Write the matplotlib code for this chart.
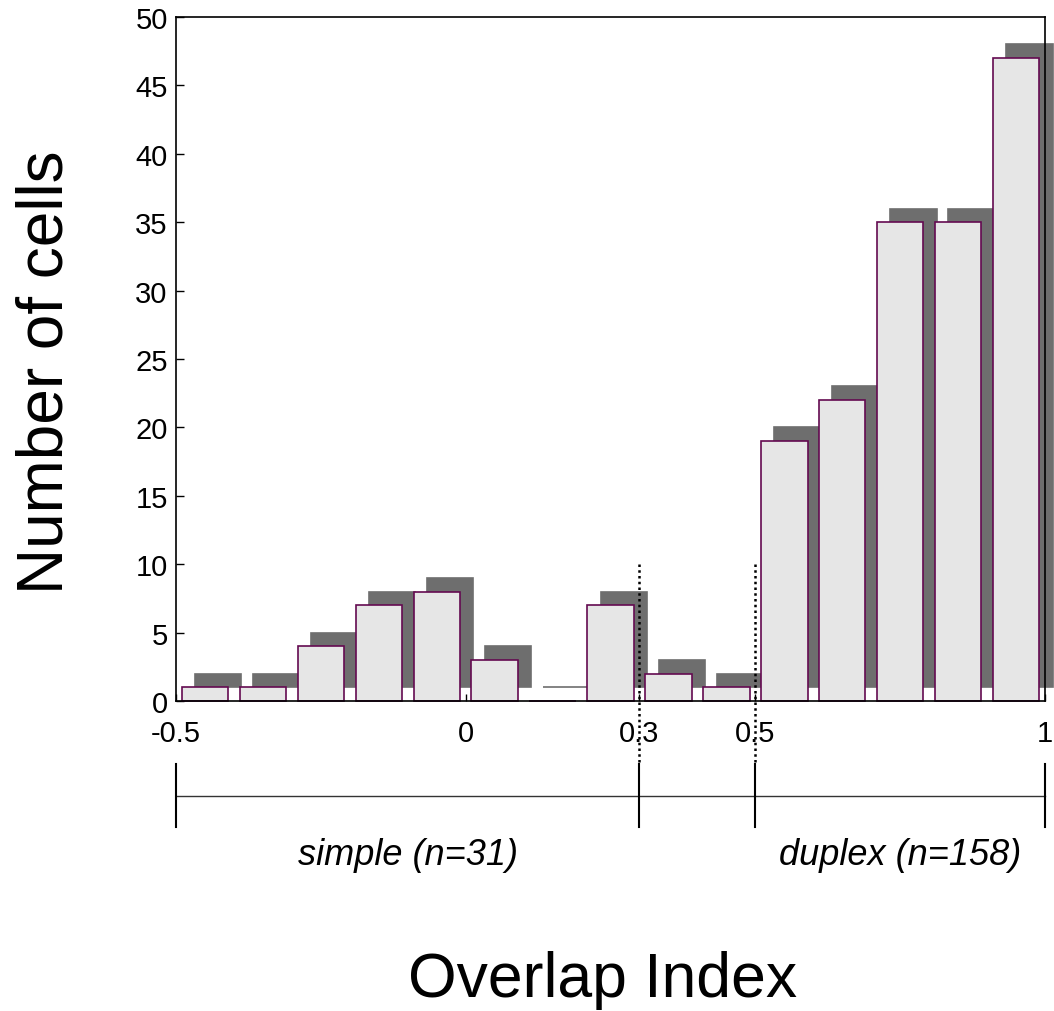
import matplotlib.pyplot as plt
import matplotlib.transforms as transforms


# bins of 0.1 from -0.5 to 1.0, bin centres
bin_centers = [-0.45, -0.35, -0.25, -0.15, -0.05, 0.05, 0.15, 0.25,
               0.35, 0.45, 0.55, 0.65, 0.75, 0.85, 0.95]
cell_counts = [1, 1, 4, 7, 8, 3, 0, 7, 2, 1, 19, 22, 35, 35, 47]

x_tick_values = [-0.5, 0, 0.3, 0.5, 1]
x_tick_labels = ["-0.5", "0", "0.3", "0.5", "1"]
y_tick_values = [0, 5, 10, 15, 20, 25, 30, 35, 40, 45, 50]

thresholds = [0.3, 0.5]
bracket_edges = [-0.5, 0.3, 0.5, 1.0]
group_labels = ["simple (n=31)", "duplex (n=158)"]
group_centers = [-0.1, 0.75]


def plot_overlap_histogram():
    plt.rcParams["font.family"] = ["Liberation Sans", "DejaVu Sans"]

    fig = plt.figure(figsize=(10.54, 10.12), dpi=100)
    ax = fig.add_axes([0.167, 0.3063, 0.8245, 0.6759])

    bar_width = 0.08
    shadow_dx = 0.023

    # drop shadow: shifted right and up by one cell
    ax.bar(
        [c + shadow_dx for c in bin_centers],
        cell_counts,
        width=bar_width,
        bottom=1,
        color="#6e6e6e",
        edgecolor="#6e6e6e",
        linewidth=1.2,
        zorder=1,
        clip_on=False
    )

    ax.bar(
        bin_centers,
        cell_counts,
        width=bar_width,
        color="#e6e6e6",
        edgecolor="#640a50",
        linewidth=1.2,
        zorder=2,
        clip_on=False
    )

    ax.set_xlim(-0.5, 1.0)
    ax.set_ylim(0, 50)

    ax.set_xticks(x_tick_values)
    ax.set_xticklabels(x_tick_labels)
    ax.set_yticks(y_tick_values)

    ax.tick_params(axis="both", direction="in", labelsize=21, width=1)
    ax.tick_params(axis="x", length=5, pad=13)
    ax.tick_params(axis="y", length=6, pad=6)

    for side in ["left", "bottom", "top", "right"]:
        ax.spines[side].set_linewidth(1.2)
        ax.spines[side].set_zorder(3)

    trans = transforms.blended_transform_factory(ax.transData, ax.transAxes)

    # dotted threshold lines
    for t in thresholds:
        ax.plot(
            [t, t],
            [0.2, -0.092],
            transform=trans,
            color="black",
            linestyle=(0, (1, 1.3)),
            linewidth=1.8,
            clip_on=False,
            zorder=4
        )

    # bracket under the axis
    ax.plot(
        [bracket_edges[0], bracket_edges[-1]],
        [-0.139, -0.139],
        transform=trans,
        color="#333333",
        linewidth=1,
        clip_on=False
    )
    for e in bracket_edges:
        ax.plot(
            [e, e],
            [-0.092, -0.184],
            transform=trans,
            color="black",
            linewidth=1.5,
            clip_on=False
        )

    for label, xc in zip(group_labels, group_centers):
        ax.text(
            xc,
            -0.224,
            label,
            transform=trans,
            ha="center",
            va="center",
            fontsize=26,
            fontstyle="italic"
        )

    fig.text(0.043, 0.632, "Number of cells", ha="center", va="center",
             rotation=90, fontsize=46)
    fig.text(0.572, 0.031, "Overlap Index", ha="center", va="center",
             fontsize=45)

    fig.savefig("out.png", dpi=100)
    plt.close(fig)


if __name__ == "__main__":
    plot_overlap_histogram()
